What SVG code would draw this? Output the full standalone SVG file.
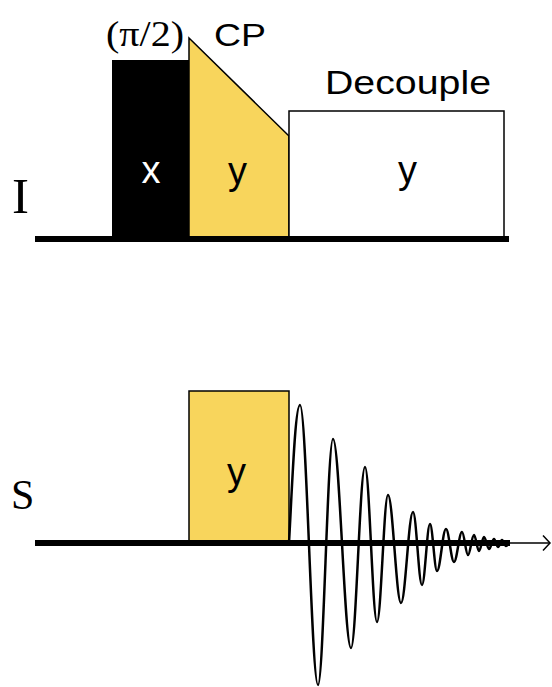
<svg xmlns="http://www.w3.org/2000/svg" width="552" height="687" viewBox="0 0 552 687">
<style>
.sans{font-family:"Liberation Sans",Arial,sans-serif;fill:#000}
.serif{font-family:"Liberation Serif","Times New Roman",serif;fill:#000}
.yel{fill:#F8D55C;stroke:#000;stroke-width:1.5}
.axis{stroke:#000;stroke-width:6;fill:none}
.lbl{font-size:38px;text-anchor:middle}
</style>
<rect width="552" height="687" fill="#fff"/>
<g id="label-I"><text class="serif" x="12" y="213" font-size="51">I</text></g>
<g id="label-S"><text class="serif" x="11" y="509" font-size="42">S</text></g>
<g id="pulse-x">
<rect x="112" y="60" width="77" height="179" fill="#000"/>
<text class="serif" x="106" y="46" font-size="36" textLength="78" lengthAdjust="spacingAndGlyphs">(π/2)</text>
<text class="sans lbl" x="151" y="183" style="fill:#fff">x</text>
</g>
<g id="pulse-cp">
<polygon class="yel" points="189,38 289,136 289,239 189,239"/>
<text class="sans" x="214" y="46" font-size="32" textLength="52" lengthAdjust="spacingAndGlyphs">CP</text>
<text class="sans lbl" x="237.5" y="184">y</text>
</g>
<g id="decouple">
<rect x="289" y="111" width="215" height="128" fill="#fff" stroke="#000" stroke-width="1.5"/>
<text class="sans" x="325" y="94" font-size="33" textLength="166" lengthAdjust="spacingAndGlyphs">Decouple</text>
<text class="sans lbl" x="407.5" y="183">y</text>
</g>
<g id="pulse-s">
<rect class="yel" x="189" y="391" width="100" height="152"/>
<text class="sans lbl" x="236.5" y="485">y</text>
</g>
<g id="fid">
<path fill="none" stroke="#000" stroke-width="2.5" d="M289,543 C292,490 295,405 300,405 C306.5,405 311.5,685 318,685 C323.4,685 327.6,439 333,439 C339.5,439 344.5,648 351,648 C356.1,648 359.9,467 365,467 C369.4,467 372.6,622 377,622 C381,622 384,495 388,495 C392.7,495 396.3,603 401,603 C405.4,603 408.6,512 413,512 C416.3,512 418.7,585 422,585 C424.9,585 427.1,524 430,524 C432.5,524 434.5,571 437,571 C440.3,571 442.7,529 446,529 C448.9,529 451.1,562 454,562 C456.9,562 459.1,532 462,532 C464.2,532 465.8,555 468,555 C470.2,555 471.8,535 474,535 C475.8,535 477.2,551 479,551 C480.8,551 482.2,537 484,537 C485.8,537 487.2,549 489,549 C490.8,549 492.2,539 494,539 C495.5,539 496.5,547 498,547 C499.5,547 500.5,540 502,540 C503.5,540 504.5,546 506,546 C507.5,546 508.5,543 510,543"/>
</g>
<g id="connectors">
<line class="axis" x1="35" y1="239" x2="509" y2="239"/>
<line class="axis" x1="35" y1="543" x2="510" y2="543"/>
<line x1="508" y1="543" x2="549" y2="543" stroke="#000" stroke-width="1.5"/>
<polyline points="543,535.5 550,543 543,550.5" fill="none" stroke="#000" stroke-width="1.5"/>
</g>
</svg>
